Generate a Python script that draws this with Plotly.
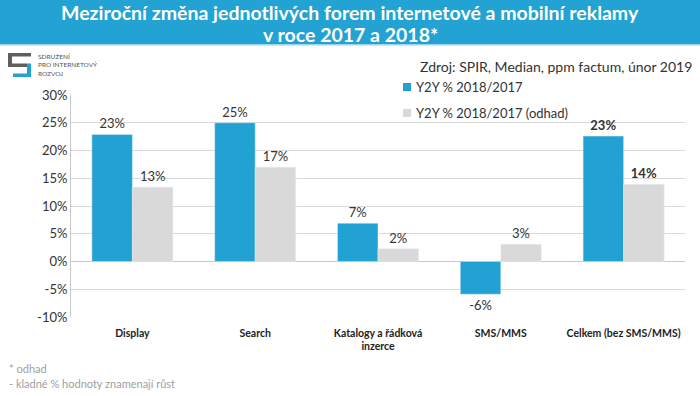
import plotly.graph_objects as go

categories = ["Display", "Search", "Katalogy a řádková<br>inzerce", "SMS/MMS", "Celkem (bez SMS/MMS)"]
series_names = ["Y2Y % 2018/2017", "Y2Y % 2018/2017 (odhad)"]
values_actual = [22.9, 25.0, 6.9, -5.9, 22.6]
values_estimate = [13.4, 17.0, 2.3, 3.1, 13.9]
bold_flags = [False, False, False, False, True]
y_ticks = [-10, -5, 0, 5, 10, 15, 20, 25, 30]

BLUE = "#21a2d3"
GREY = "#d9d9d9"
LOGO_GREY = "#5f5f5f"
FONT = "Lato, 'Open Sans', sans-serif"

W, H = 700, 396
L, R, T, B = 71, 15, 95, 79
PH = H - T - B
PW = W - L - R


def px(x):
    return (x - L) / PW


def py(y):
    return (H - B - y) / PH


def labels(vals):
    out = []
    for v, b in zip(vals, bold_flags):
        s = f"{round(v):d}%"
        out.append(f"<b>{s}</b>" if b else s)
    return out


def prect(x0, y0, x1, y1, color, layer="above"):
    return dict(type="rect", xref="paper", yref="paper", x0=px(x0), x1=px(x1),
                y0=py(y1), y1=py(y0), fillcolor=color, line_width=0, layer=layer)


fig = go.Figure()
fig.add_trace(go.Bar(
    x=categories, y=values_actual, name=series_names[0], marker_color=BLUE,
    text=labels(values_actual), textposition="outside", cliponaxis=False,
    textfont=dict(size=13, color="#333333", family=FONT), showlegend=False,
))
fig.add_trace(go.Bar(
    x=categories, y=values_estimate, name=series_names[1], marker_color=GREY,
    text=labels(values_estimate), textposition="outside", cliponaxis=False,
    textfont=dict(size=13, color="#333333", family=FONT), showlegend=False,
))

shapes = [
    prect(0, 0, W, 44, "#22a3d3", layer="below"),
    prect(0, 44, W, 45.5, "#9dd4ea", layer="below"),
    # logo
    prect(8, 53, 31, 56.5, LOGO_GREY),
    prect(8, 53, 12, 67, LOGO_GREY),
    prect(8, 63.5, 27, 67, LOGO_GREY),
    prect(27, 63.5, 31, 77, BLUE),
    prect(13, 73.5, 31, 77, BLUE),
    # manual legend markers
    prect(403, 83, 411, 91, BLUE),
    prect(403, 109, 411, 117, GREY),
]

annotations = [
    dict(text="Meziroční změna jednotlivých forem internetové a mobilní reklamy",
         xref="paper", yref="paper", x=px(350), y=py(12.5), xanchor="center", yanchor="middle",
         showarrow=False, font=dict(size=19.5, color="white", family=FONT, weight="bold")),
    dict(text="v roce 2017 a 2018*",
         xref="paper", yref="paper", x=px(350), y=py(34.5), xanchor="center", yanchor="middle",
         showarrow=False, font=dict(size=19.5, color="white", family=FONT, weight="bold")),
    dict(text="SDRUŽENÍ<br>PRO INTERNETOVÝ<br>ROZVOJ",
         xref="paper", yref="paper", x=px(36), y=py(65), xanchor="left", yanchor="middle",
         align="left", showarrow=False,
         font=dict(size=6.5, color="#555555", family=FONT)),
    dict(text="Zdroj: SPIR, Median, ppm factum, únor 2019",
         xref="paper", yref="paper", x=px(694), y=py(66), xanchor="right", yanchor="middle",
         showarrow=False, font=dict(size=14, color="#333333", family=FONT)),
    dict(text=series_names[0],
         xref="paper", yref="paper", x=px(414), y=py(87), xanchor="left", yanchor="middle",
         showarrow=False, font=dict(size=13, color="#333333", family=FONT)),
    dict(text=series_names[1],
         xref="paper", yref="paper", x=px(414), y=py(113), xanchor="left", yanchor="middle",
         showarrow=False, font=dict(size=13, color="#333333", family=FONT)),
    dict(text="* odhad",
         xref="paper", yref="paper", x=px(7), y=py(368), xanchor="left", yanchor="middle",
         showarrow=False, font=dict(size=11, color="#a0a0a0", family=FONT)),
    dict(text="- kladné % hodnoty znamenají růst",
         xref="paper", yref="paper", x=px(7), y=py(383), xanchor="left", yanchor="middle",
         showarrow=False, font=dict(size=11, color="#a0a0a0", family=FONT)),
]

fig.update_layout(
    width=W, height=H,
    margin=dict(l=L, r=R, t=T, b=B, autoexpand=False),
    paper_bgcolor="white", plot_bgcolor="white",
    barmode="group", bargap=0.34, bargroupgap=0,
    font=dict(family=FONT, color="#333333"),
    showlegend=False,
    shapes=shapes,
    annotations=annotations,
)
fig.update_yaxes(
    range=[-10, 30], tickvals=y_ticks, ticktext=[f"{v}%" for v in y_ticks],
    showgrid=True, gridcolor="#d9d9d9", gridwidth=1,
    zeroline=True, zerolinecolor="#c8c8c8", zerolinewidth=1,
    showline=True, linecolor="#c8c8c8", linewidth=1,
    tickfont=dict(size=13, color="#333333", family=FONT), ticks="",
)
fig.update_xaxes(
    showline=False, ticks="", ticklabelstandoff=8,
    tickfont=dict(size=10.5, color="#222222", family=FONT, weight="bold"),
)

fig.write_html(
    "out.html",
    config={"displayModeBar": False},
    post_script="document.body.style.margin='0';",
)
